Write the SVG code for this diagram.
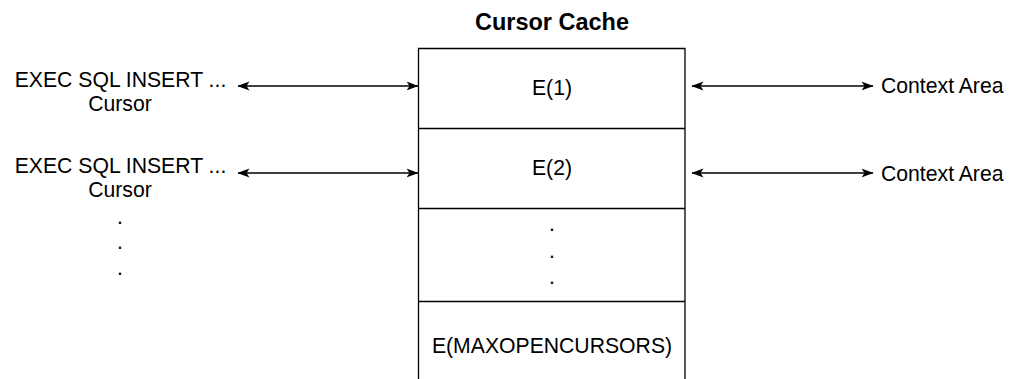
<svg xmlns="http://www.w3.org/2000/svg" width="1015" height="379" viewBox="0 0 1015 379">
<defs>
<style>
text{font-family:"Liberation Sans",Arial,sans-serif;font-size:21.2px;fill:#000}
.title{font-weight:bold;font-size:23.5px}
.mid{text-anchor:middle}
.box{fill:#fff;stroke:#000;stroke-width:1.3}
.conn{stroke:#000;stroke-width:1.3;fill:none;marker-start:url(#ah);marker-end:url(#ah)}
</style>
<marker id="ah" markerUnits="userSpaceOnUse" viewBox="0 0 12 10" refX="11.5" refY="5" markerWidth="12" markerHeight="10" orient="auto-start-reverse">
<path d="M0,0.5 L12,5 L0,9.5 L3,5 Z" fill="#000"/>
</marker>
</defs>
<rect width="1015" height="379" fill="#fff"/>
<g id="title"><text class="title mid" x="552" y="30">Cursor Cache</text></g>
<g id="cache">
<path class="box" d="M418.5,385 V48.5 H685 V385"/>
<line x1="418.5" y1="128.5" x2="685" y2="128.5" stroke="#000" stroke-width="1.3"/>
<line x1="418.5" y1="208.5" x2="685" y2="208.5" stroke="#000" stroke-width="1.3"/>
<line x1="418.5" y1="301.5" x2="685" y2="301.5" stroke="#000" stroke-width="1.3"/>
</g>
<g id="e1"><text class="mid" x="552" y="95">E(1)</text></g>
<g id="e2"><text class="mid" x="552" y="175">E(2)</text></g>
<g id="edots"><text class="mid" x="552" y="231">.</text><text class="mid" x="552" y="258">.</text><text class="mid" x="552" y="284">.</text></g>
<g id="emax"><text class="mid" x="552" y="353">E(MAXOPENCURSORS)</text></g>
<g id="cursor1"><text class="mid" x="120.5" y="87">EXEC SQL INSERT ...</text><text class="mid" x="120" y="111">Cursor</text></g>
<g id="cursor2"><text class="mid" x="120.5" y="173">EXEC SQL INSERT ...</text><text class="mid" x="120" y="197">Cursor</text></g>
<g id="ldots"><text class="mid" x="120" y="224">.</text><text class="mid" x="120" y="249">.</text><text class="mid" x="120" y="275">.</text></g>
<g id="ctx1"><text x="881" y="93">Context Area</text></g>
<g id="ctx2"><text x="881" y="181">Context Area</text></g>
<g id="connectors">
<line class="conn" x1="238" y1="86" x2="418" y2="86"/>
<line class="conn" x1="238" y1="173" x2="418" y2="173"/>
<line class="conn" x1="692" y1="86" x2="873" y2="86"/>
<line class="conn" x1="692" y1="173" x2="873" y2="173"/>
</g>
</svg>
